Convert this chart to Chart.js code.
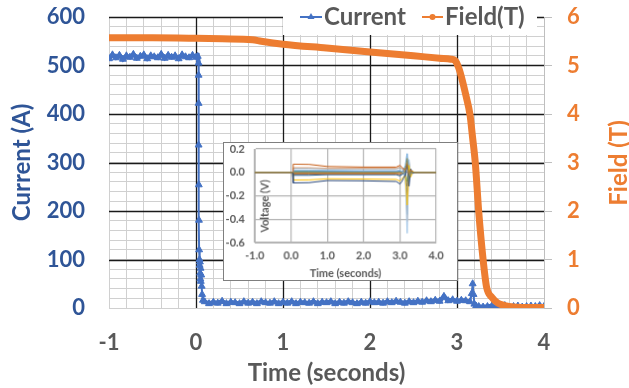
<!DOCTYPE html>
<html>
<head>
<meta charset="utf-8">
<script src="https://cdn.jsdelivr.net/npm/chart.js@4.4.1/dist/chart.umd.min.js"></script>
<style>
  body { margin: 0; background: #fff; }
  #wrap { position: relative; width: 629px; height: 388px; }
  #main { position: absolute; left: 0; top: 0; }
  #inset { position: absolute; left: 223px; top: 142px; border: 1px solid #7f7f7f; background: #fff; }
</style>
</head>
<body>
<div id="wrap">
  <canvas id="main" width="629" height="388"></canvas>
  <canvas id="inset" width="235" height="139"></canvas>
</div>
<script>
// main chart: coil current (A) and field (T) against time (s)
const currentTime = [
  -1.00, -0.96, -0.92, -0.88, -0.84, -0.80, -0.76, -0.72, -0.68, -0.64, -0.60, -0.56, -0.52, -0.48,
  -0.44, -0.40, -0.36, -0.32, -0.28, -0.24, -0.20, -0.16, -0.12, -0.08, -0.04, 0.00, 0.02,
  0.03, 0.03, 0.03, 0.03, 0.032, 0.034, 0.036, 0.04, 0.042, 0.045, 0.048, 0.05, 0.052, 0.055, 0.06, 0.065, 0.07, 0.08,
  0.10, 0.15, 0.20, 0.25, 0.30, 0.35, 0.40, 0.45, 0.50, 0.55, 0.60, 0.65, 0.70, 0.75, 0.80, 0.85, 0.90, 0.95,
  1.00, 1.05, 1.10, 1.15, 1.20, 1.25, 1.30, 1.35, 1.40, 1.45, 1.50, 1.55, 1.60, 1.65, 1.70, 1.75, 1.80, 1.85,
  1.90, 1.95, 2.00, 2.05, 2.10, 2.15, 2.20, 2.25, 2.30, 2.35, 2.40, 2.45, 2.50, 2.55, 2.60, 2.65, 2.70, 2.75,
  2.80, 2.85, 2.90, 2.95, 3.00,
  3.05, 3.10, 3.15, 3.17, 3.18, 3.19, 3.20, 3.22, 3.25, 3.30,
  3.35, 3.40, 3.45, 3.50, 3.55, 3.60, 3.65, 3.70, 3.75, 3.80, 3.85, 3.90, 3.95, 4.00
];
const currentAmps = [
  514, 522, 516, 521, 513, 520, 517, 523, 515, 519, 522, 514, 520, 518,
  516, 523, 515, 521, 517, 520, 514, 522, 518, 516, 521, 517, 519,
  505, 480, 422, 336, 254, 181, 120, 100, 88, 95, 72, 60, 82, 55, 68, 45, 28, 16,
  13, 9, 12, 10, 14, 9, 12, 11, 9, 13, 10, 12, 9, 13, 11, 10, 13, 9,
  12, 10, 13, 9, 12, 11, 10, 13, 9, 12, 11, 13, 9, 12, 10, 13, 11, 9,
  12, 10, 13, 11, 12, 10, 13, 11, 14, 12, 10, 13, 11, 14, 12, 15, 13, 16,
  14, 24, 15, 17, 14,
  16, 15, 13, 30, 50, 28, 8, 4, 3, 2,
  3, 4, 2, 3, 5, 2, 3, 4, 2, 3, 4, 3, 5, 3
];
const fieldTime = [-1, -0.5, 0, 0.3, 0.65, 0.75, 1.0, 1.5, 2.0, 2.5, 2.8, 2.93, 2.98, 3.02, 3.06, 3.1,
  3.15, 3.18, 3.21, 3.25, 3.3, 3.34, 3.4, 3.47, 3.55, 3.65, 3.8, 4.0];
const fieldTesla = [5.57, 5.57, 5.56, 5.55, 5.53, 5.5, 5.44, 5.36, 5.28, 5.2, 5.15, 5.13, 5.1, 4.95, 4.7, 4.4,
  3.98, 3.5, 3.0, 1.98, 1.0, 0.43, 0.22, 0.1, 0.05, 0.02, 0.01, 0.01];

// inset: voltage taps (V) against time (s)
const insetTime = [-1, 0, 0.04, 0.06, 0.5, 1.0, 2.0, 2.9, 3.0, 3.05, 3.1, 3.15, 3.2, 3.25, 3.3, 3.35, 3.4, 3.5, 4.0];
const voltageTraces = [
  [0, 0, 0, 0.0, 0.0, 0.0, 0.0, 0.0, 0.0, 0.0, -0.01, 0.02, 0.12, -0.04, 0.01, 0, 0, 0, 0],
  [0, 0, 0, 0.07, 0.068, 0.05, 0.045, 0.045, 0.06, 0.045, 0.03, 0.02, 0.07, -0.03, 0.02, 0.005, 0, 0, 0],
  [0, 0, 0, -0.09, -0.088, -0.07, -0.072, -0.078, -0.1, -0.08, -0.05, -0.02, 0.06, -0.12, 0.03, -0.01, 0, 0, 0],
  [0, 0, 0, -0.065, -0.064, -0.055, -0.057, -0.06, -0.075, -0.055, -0.04, -0.03, -0.28, 0.06, -0.04, 0.01, 0, 0, 0],
  [0, 0, 0, 0.02, 0.02, 0.018, 0.015, 0.015, 0.02, 0.01, 0.0, -0.06, -0.52, 0.11, -0.03, 0.01, 0, 0, 0],
  [0, 0, 0, 0.015, 0.015, 0.012, 0.01, 0.01, 0.012, 0.005, 0.02, 0.06, 0.16, -0.05, 0.02, 0, 0, 0, 0],
  [0, 0, 0, 0.035, 0.035, 0.03, 0.03, 0.03, 0.04, 0.03, 0.02, 0.03, -0.36, 0.08, -0.02, 0.005, 0, 0, 0],
  [0, 0, 0, 0.005, 0.005, 0.005, 0.005, 0.005, 0.01, 0.0, 0.01, -0.02, -0.18, 0.06, -0.02, 0, 0, 0, 0],
  [0, 0, 0, -0.01, -0.01, -0.01, -0.01, -0.01, -0.012, -0.005, 0.0, 0.03, 0.09, -0.03, 0.01, 0, 0, 0, 0],
  [0, 0, 0, -0.015, -0.015, -0.015, -0.015, -0.015, -0.02, -0.01, -0.01, -0.03, -0.12, 0.03, -0.01, 0, 0, 0, 0],
  [0, 0, 0, -0.005, -0.005, -0.005, -0.005, -0.005, 0.0, 0.0, 0.02, 0.04, 0.1, -0.06, 0.02, 0, 0, 0, 0],
  [0, 0, 0, -0.025, -0.025, -0.02, -0.02, -0.02, -0.03, -0.02, -0.01, -0.04, -0.26, 0.05, -0.02, 0, 0, 0, 0],
  [0, 0, 0, 0.01, 0.01, 0.01, 0.008, 0.008, 0.01, 0.005, 0.0, 0.01, -0.08, 0.03, 0.0, 0, 0, 0, 0],
  [0, 0, 0, 0.04, 0.04, 0.035, 0.035, 0.035, 0.045, 0.035, 0.02, 0.04, -0.42, 0.09, -0.02, 0, 0, 0, 0]
];
const traceColors = ['#8a8f5a', '#C55A11', '#264478', '#FFC000', '#9DC3E6', '#5B9BD5', '#A5A5A5',
  '#4472C4', '#ED7D31', '#636363', '#997300', '#255E91', '#70AD47', '#F4B183'];

Chart.defaults.font.family = 'Lato';

const BLUE = '#4472C4';
const ORANGE = '#ED7D31';
const GREY_TXT = '#595959';
const MAJOR = '#1a1a1a';
const MINOR = '#d0d0d0';

const pairs = (xs, ys) => xs.map((x, i) => ({ x: x, y: ys[i] }));
const isWhole = v => Math.abs(v - Math.round(v)) < 1e-6;

// fixed axis boxes so the plot area lands where the original has it
const fixWidth = w => s => { s.width = w; s.paddingTop = 0; s.paddingBottom = 0; };

// the black major lines go over the light minor grid
const majorGrid = {
  id: 'majorGrid',
  beforeDatasetsDraw(chart) {
    const { ctx, chartArea: a, scales } = chart;
    const x = scales.x, y = scales.yA;
    ctx.save();
    ctx.strokeStyle = MAJOR;
    ctx.lineWidth = 1.3;
    ctx.beginPath();
    x.ticks.forEach(t => {
      if (isWhole(t.value) && t.value > x.min && t.value < x.max) {
        const px = Math.round(x.getPixelForValue(t.value)) + 0.5;
        ctx.moveTo(px, a.top); ctx.lineTo(px, a.bottom);
      }
    });
    y.ticks.forEach(t => {
      if (t.value % 100 === 0 && t.value > y.min) {
        const py = Math.round(y.getPixelForValue(t.value)) + 0.5;
        ctx.moveTo(a.left, py); ctx.lineTo(a.right, py);
      }
    });
    ctx.stroke();
    ctx.restore();
  }
};

// legend sits on top of the plot with a white box, like the original
const overlayLegend = {
  id: 'overlayLegend',
  afterDraw(chart) {
    const c = chart.ctx;
    c.save();
    c.fillStyle = '#fff';
    c.fillRect(283, 0, 254, 35);
    c.lineWidth = 2;
    c.strokeStyle = BLUE;
    c.beginPath(); c.moveTo(300, 17); c.lineTo(322, 17); c.stroke();
    c.fillStyle = BLUE;
    c.beginPath(); c.moveTo(311, 13); c.lineTo(314.5, 19); c.lineTo(307.5, 19); c.closePath(); c.fill();
    c.strokeStyle = ORANGE;
    c.beginPath(); c.moveTo(422, 17); c.lineTo(443, 17); c.stroke();
    c.fillStyle = ORANGE;
    c.beginPath(); c.arc(432.5, 17, 3, 0, Math.PI * 2); c.fill();
    c.font = 'bold 24px Lato';
    c.textBaseline = 'middle';
    c.fillStyle = GREY_TXT;
    c.fillText('Current', 324, 17.5);
    c.fillText('Field(T)', 445, 17.5);
    // right axis title reads bottom-to-top
    c.translate(619, 163);
    c.rotate(-Math.PI / 2);
    c.textAlign = 'center';
    c.fillStyle = ORANGE;
    c.fillText('Field (T)', 0, 0);
    c.restore();
  }
};

// dense, noisy stretches of the trace read as a thick band; steep drops stay thin
const bandWidth = ctx => {
  const a = ctx.p0.parsed.y, b = ctx.p1.parsed.y;
  return ((a < 25 && b < 25) || (a > 500 && b > 500)) ? 4.5 : 2;
};

new Chart(document.getElementById('main'), {
  type: 'line',
  data: {
    datasets: [
      {
        label: 'Field(T)',
        data: pairs(fieldTime, fieldTesla),
        yAxisID: 'yT',
        borderColor: ORANGE,
        borderWidth: 7,
        borderCapStyle: 'round',
        pointRadius: 0,
        cubicInterpolationMode: 'monotone',
        order: 0
      },
      {
        label: 'Current',
        data: pairs(currentTime, currentAmps),
        yAxisID: 'yA',
        borderColor: BLUE,
        backgroundColor: BLUE,
        borderWidth: 2,
        segment: { borderWidth: bandWidth },
        pointStyle: 'triangle',
        pointRadius: 4,
        pointBorderWidth: 1,
        tension: 0,
        order: 1
      }
    ]
  },
  options: {
    responsive: false,
    animation: false,
    layout: { padding: { top: 17, left: 0, right: 0, bottom: 0 } },
    plugins: { legend: { display: false }, tooltip: { enabled: false } },
    scales: {
      x: {
        type: 'linear',
        min: -1,
        max: 4,
        ticks: {
          stepSize: 0.2,
          autoSkip: false,
          maxRotation: 0,
          padding: 22,
          color: GREY_TXT,
          font: { size: 22, weight: 'bold' },
          callback: v => isWhole(v) ? Math.round(v) : ''
        },
        grid: { drawTicks: false, color: MINOR, lineWidth: 1 },
        border: { color: MINOR },
        title: {
          display: true,
          text: 'Time (seconds)',
          color: GREY_TXT,
          font: { size: 24, weight: 'bold', lineHeight: 1 },
          padding: { top: 0, bottom: 3 }
        },
        afterFit(s) { s.height = 80; s.paddingLeft = 0; s.paddingRight = 0; }
      },
      yA: {
        position: 'left',
        min: 0,
        max: 600,
        ticks: {
          stepSize: 20,
          autoSkip: false,
          padding: 24,
          color: '#2F5597',
          font: { size: 22, weight: 'bold' },
          callback: v => v % 100 === 0 ? v : ''
        },
        grid: { drawTicks: false, color: MINOR, lineWidth: 1 },
        border: { color: MINOR },
        title: {
          display: true,
          text: 'Current (A)',
          color: '#2F5597',
          font: { size: 24, weight: 'bold', lineHeight: 1 },
          padding: { top: 10, bottom: 0 }
        },
        afterFit: fixWidth(109)
      },
      yT: {
        position: 'right',
        min: 0,
        max: 6,
        ticks: {
          stepSize: 1,
          padding: 15,
          color: ORANGE,
          font: { size: 22, weight: 'bold' }
        },
        grid: { drawOnChartArea: false, drawTicks: true, tickLength: 8, color: '#bfbfbf' },
        border: { color: '#bfbfbf' },
        afterFit: fixWidth(85)
      }
    }
  },
  plugins: [majorGrid, overlayLegend]
});

// inset y title sits inside the plot area
const insetYTitle = {
  id: 'insetYTitle',
  afterDraw(chart) {
    const c = chart.ctx;
    c.save();
    c.translate(41, 64);
    c.rotate(-Math.PI / 2);
    c.font = 'bold 11px Lato';
    c.textAlign = 'center';
    c.textBaseline = 'middle';
    c.fillStyle = GREY_TXT;
    c.fillText('Voltage (V)', 0, 0);
    c.restore();
  }
};

new Chart(document.getElementById('inset'), {
  type: 'line',
  data: {
    datasets: voltageTraces.map((tr, i) => ({
      data: pairs(insetTime, tr),
      borderColor: traceColors[i],
      borderWidth: 1,
      pointRadius: 0,
      tension: 0
    }))
  },
  options: {
    responsive: false,
    animation: false,
    layout: { padding: { top: 6, right: 21, left: 0, bottom: 0 } },
    plugins: { legend: { display: false }, tooltip: { enabled: false } },
    scales: {
      x: {
        type: 'linear',
        min: -1,
        max: 4,
        ticks: {
          stepSize: 1,
          padding: 7,
          maxRotation: 0,
          color: GREY_TXT,
          font: { size: 11, weight: 'bold' },
          callback: v => v.toFixed(1)
        },
        grid: { drawTicks: false, color: '#b4b4b4', lineWidth: 1.2 },
        border: { color: '#b4b4b4' },
        title: {
          display: true,
          text: 'Time (seconds)',
          color: GREY_TXT,
          font: { size: 11, weight: 'bold', lineHeight: 1 },
          padding: { top: 0, bottom: 1.5 }
        },
        afterFit(s) { s.height = 38; s.paddingLeft = 0; s.paddingRight = 0; }
      },
      y: {
        min: -0.6,
        max: 0.2,
        ticks: {
          stepSize: 0.2,
          padding: 10,
          color: GREY_TXT,
          font: { size: 11, weight: 'bold' },
          callback: v => Math.abs(v) < 1e-9 ? '0.0' : v.toFixed(1)
        },
        grid: { drawTicks: false, color: '#b4b4b4', lineWidth: 1.2 },
        border: { color: '#b4b4b4' },
        afterFit: fixWidth(31)
      }
    }
  },
  plugins: [insetYTitle]
});
</script>
</body>
</html>
